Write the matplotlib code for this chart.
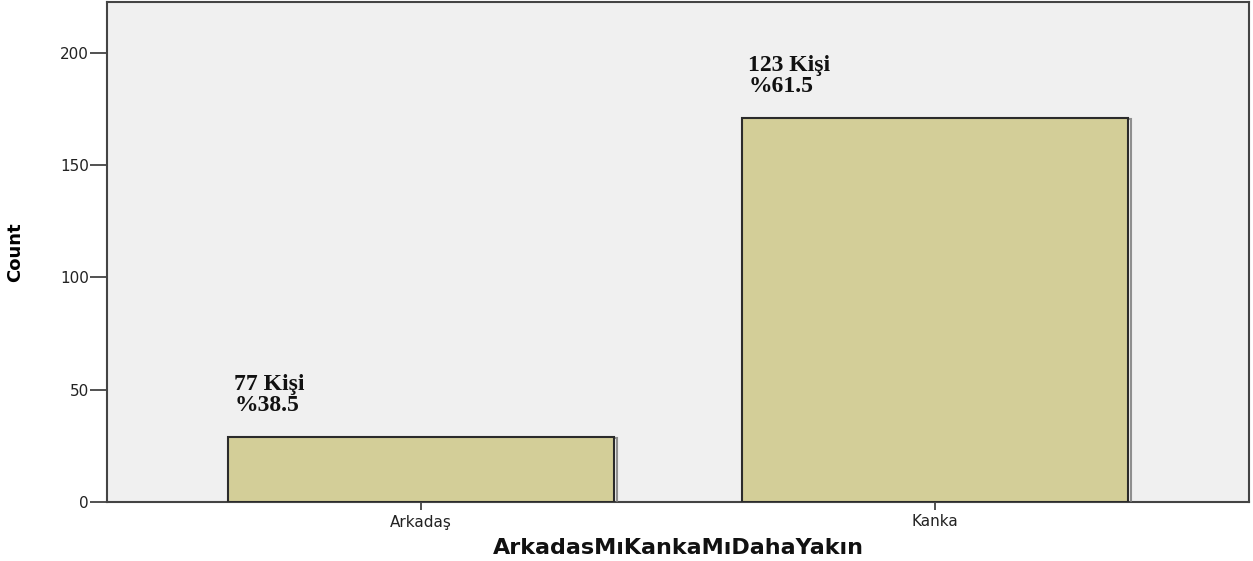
import matplotlib
matplotlib.use("Agg")
import matplotlib.pyplot as plt
import matplotlib.patheffects as pe

categories = ["Arkadaş", "Kanka"]
counts = [29, 171]
labels = ["77 Kişi\n%38.5", "123 Kişi\n%61.5"]
y_ticks = [0, 50, 100, 150, 200]

fig = plt.figure(figsize=(12.53, 5.61), dpi=100)
ax = fig.add_axes([107/1253, 1 - 502/561, (1249 - 107)/1253, (502 - 2)/561])
ax.set_facecolor("#F0F0F0")

x = list(range(len(categories)))
bars = ax.bar(x, counts, width=0.75, color="#D3CE98", edgecolor="#2b2b2b",
              linewidth=1.5, zorder=3)
for b in bars:
    b.set_path_effects([pe.SimpleLineShadow(offset=(2.5, -0.5), shadow_color="#777777", alpha=0.8),
                        pe.Normal()])

for xi, c, lab in zip(x, counts, labels):
    ax.text(xi - 0.363, c + 9.5, lab, ha="left", va="bottom",
            family=["Liberation Serif", "DejaVu Serif"], fontweight="bold",
            fontsize=17, color="#111111", linespacing=1.0, zorder=4)

ax.set_xlim(-0.611, 1.611)
ax.set_ylim(0, 222.6)
ax.set_xticks(x)
ax.set_xticklabels(categories)
ax.set_yticks(y_ticks)

ax.tick_params(axis="y", length=12, width=1.2, pad=1, labelsize=11, colors="#333333",
               labelcolor="#222222")
ax.tick_params(axis="x", length=6, width=1.2, pad=3, labelsize=11, colors="#333333",
               labelcolor="#222222")

for s in ax.spines.values():
    s.set_color("#444444")
    s.set_linewidth(1.5)

ax.set_ylabel("Count", family=["Liberation Sans Narrow", "DejaVu Sans"], fontweight="bold",
              fontsize=13, labelpad=26)
ax.set_xlabel("ArkadasMıKankaMıDahaYakın", fontweight="bold", fontsize=16,
              labelpad=6, color="#111111")

fig.savefig("out.png", dpi=100)
